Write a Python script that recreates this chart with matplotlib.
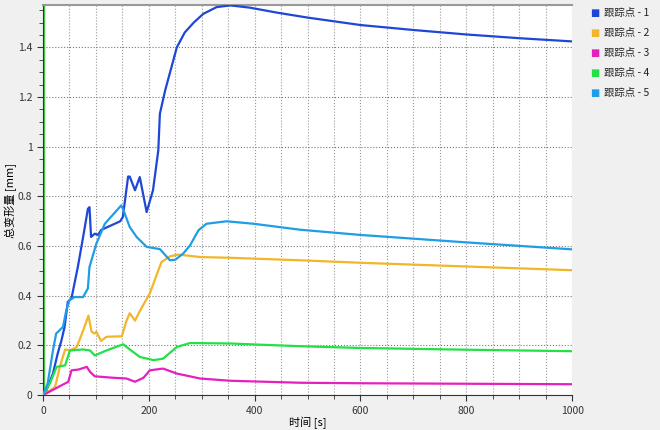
import numpy as np
import matplotlib
matplotlib.use('Agg')
import matplotlib.pyplot as plt
from matplotlib.ticker import MultipleLocator

plt.rcParams['font.family'] = ['Noto Sans CJK SC', 'DejaVu Sans']

# tracked points, total deformation vs time
t1 = [0, 3, 13, 19, 28, 35, 41, 47, 54, 66, 76, 85, 88, 91, 98, 104, 110, 146, 151, 161, 164, 174, 183, 196, 208, 218,
      221, 231, 253, 268, 285, 303, 328, 354, 391, 442, 500, 600, 700, 800, 900, 1000]
v1 = [0, 0, 0.054, 0.087, 0.168, 0.22, 0.275, 0.375, 0.39, 0.516, 0.637, 0.75, 0.757, 0.637, 0.65, 0.645, 0.665, 0.70, 0.717, 0.88, 0.88, 0.825, 0.878, 0.737, 0.825, 0.985,
      1.133, 1.227, 1.40, 1.46, 1.50, 1.535, 1.562, 1.569, 1.56, 1.54, 1.52, 1.49, 1.47, 1.452, 1.437, 1.424]

t2 = [0, 23, 32, 42, 51, 64, 76, 86, 92, 98, 101, 110, 120, 149, 158, 164, 174, 183, 202,
      224, 240, 256, 297, 354, 486, 600, 800, 1000]
v2 = [0, 0.033, 0.114, 0.184, 0.18, 0.194, 0.26, 0.32, 0.255, 0.248, 0.255, 0.218, 0.235, 0.237, 0.30, 0.33, 0.30, 0.338, 0.41,
      0.536, 0.559, 0.566, 0.556, 0.553, 0.543, 0.533, 0.518, 0.503]

t3 = [0, 32, 48, 54, 67, 83, 89, 98, 133, 158, 174, 190, 202, 227, 253, 297, 354, 486, 600, 800, 1000]
v3 = [0, 0.036, 0.054, 0.10, 0.103, 0.114, 0.094, 0.076, 0.07, 0.067, 0.054, 0.07, 0.10, 0.107, 0.087, 0.067, 0.058, 0.05, 0.048, 0.046, 0.044]

t4 = [0, 13, 26, 42, 51, 76, 89, 98, 120, 152, 158, 183, 209, 227, 253, 278, 354, 486, 600, 800, 1000]
v4 = [0, 0.047, 0.114, 0.12, 0.18, 0.184, 0.18, 0.16, 0.18, 0.205, 0.194, 0.154, 0.141, 0.147, 0.194, 0.21, 0.208, 0.197, 0.19, 0.183, 0.177]

t5 = [0, 9, 19, 25, 38, 44, 50, 60, 76, 85, 88, 101, 117, 148, 152, 164, 177, 196, 215, 221,
      240, 250, 265, 278, 294, 309, 347, 398, 486, 600, 800, 1000]
v5 = [0, 0.047, 0.18, 0.248, 0.275, 0.34, 0.382, 0.395, 0.395, 0.43, 0.516, 0.61, 0.69, 0.764, 0.746, 0.677, 0.637, 0.597, 0.59, 0.588,
      0.543, 0.545, 0.57, 0.603, 0.664, 0.69, 0.70, 0.69, 0.666, 0.645, 0.615, 0.587]

series = [(t1, v1), (t2, v2), (t3, v3), (t4, v4), (t5, v5)]
labels = ['跟踪点 - 1', '跟踪点 - 2', '跟踪点 - 3', '跟踪点 - 4', '跟踪点 - 5']
colors = ['#1f47d6', '#f2b62a', '#e61fbf', '#22e045', '#1f9de6']

fig = plt.figure(figsize=(6.6, 4.3), dpi=100, facecolor='#f0f0f0')
ax = fig.add_axes([0.065, 0.081, 0.802, 0.907])
ax.set_facecolor('white')

# green marker line at t=0
ax.axvline(0, color='#44cc44', lw=2.5, zorder=1)

for (t, v), lab, c in zip(series, labels, colors):
    ax.plot(t, v, color=c, lw=1.6, label=lab, zorder=3)

ax.set_xlim(0, 1000)
ax.set_ylim(0, 1.57)
ax.xaxis.set_major_locator(MultipleLocator(200))
ax.xaxis.set_minor_locator(MultipleLocator(50))
ax.yaxis.set_major_locator(MultipleLocator(0.2))
ax.yaxis.set_minor_locator(MultipleLocator(0.05))
ax.yaxis.set_major_formatter(plt.FuncFormatter(lambda v, p: '%g' % round(v, 2)))
ax.grid(which='both', axis='x', color='#999999', ls=':', lw=0.8)
ax.grid(which='major', axis='y', color='#777777', ls=':', lw=0.8)
ax.tick_params(which='both', direction='out', labelsize=7.5, colors='#333333')
ax.tick_params(which='major', length=4)
ax.tick_params(which='minor', length=3)

ax.spines['right'].set_visible(False)
ax.spines['top'].set_color('#999999')
ax.spines['top'].set_linewidth(1.5)
ax.spines['left'].set_color('#333333')
ax.spines['bottom'].set_color('#333333')

ax.set_xlabel('时间 [s]', fontsize=8, labelpad=1)
ax.set_ylabel('总变形量 [mm]', fontsize=8, labelpad=1)

# legend: coloured squares with labels
for i, (lab, c) in enumerate(zip(labels, colors)):
    y = 0.97 - i * 0.0465
    fig.text(0.894, y, '\u25a0', color=c, fontsize=7, va='center', ha='left', family=['DejaVu Sans'])
    fig.text(0.915, y, lab, color='#222222', fontsize=7.5, va='center', ha='left')

fig.savefig('out.png', dpi=100, facecolor=fig.get_facecolor())
